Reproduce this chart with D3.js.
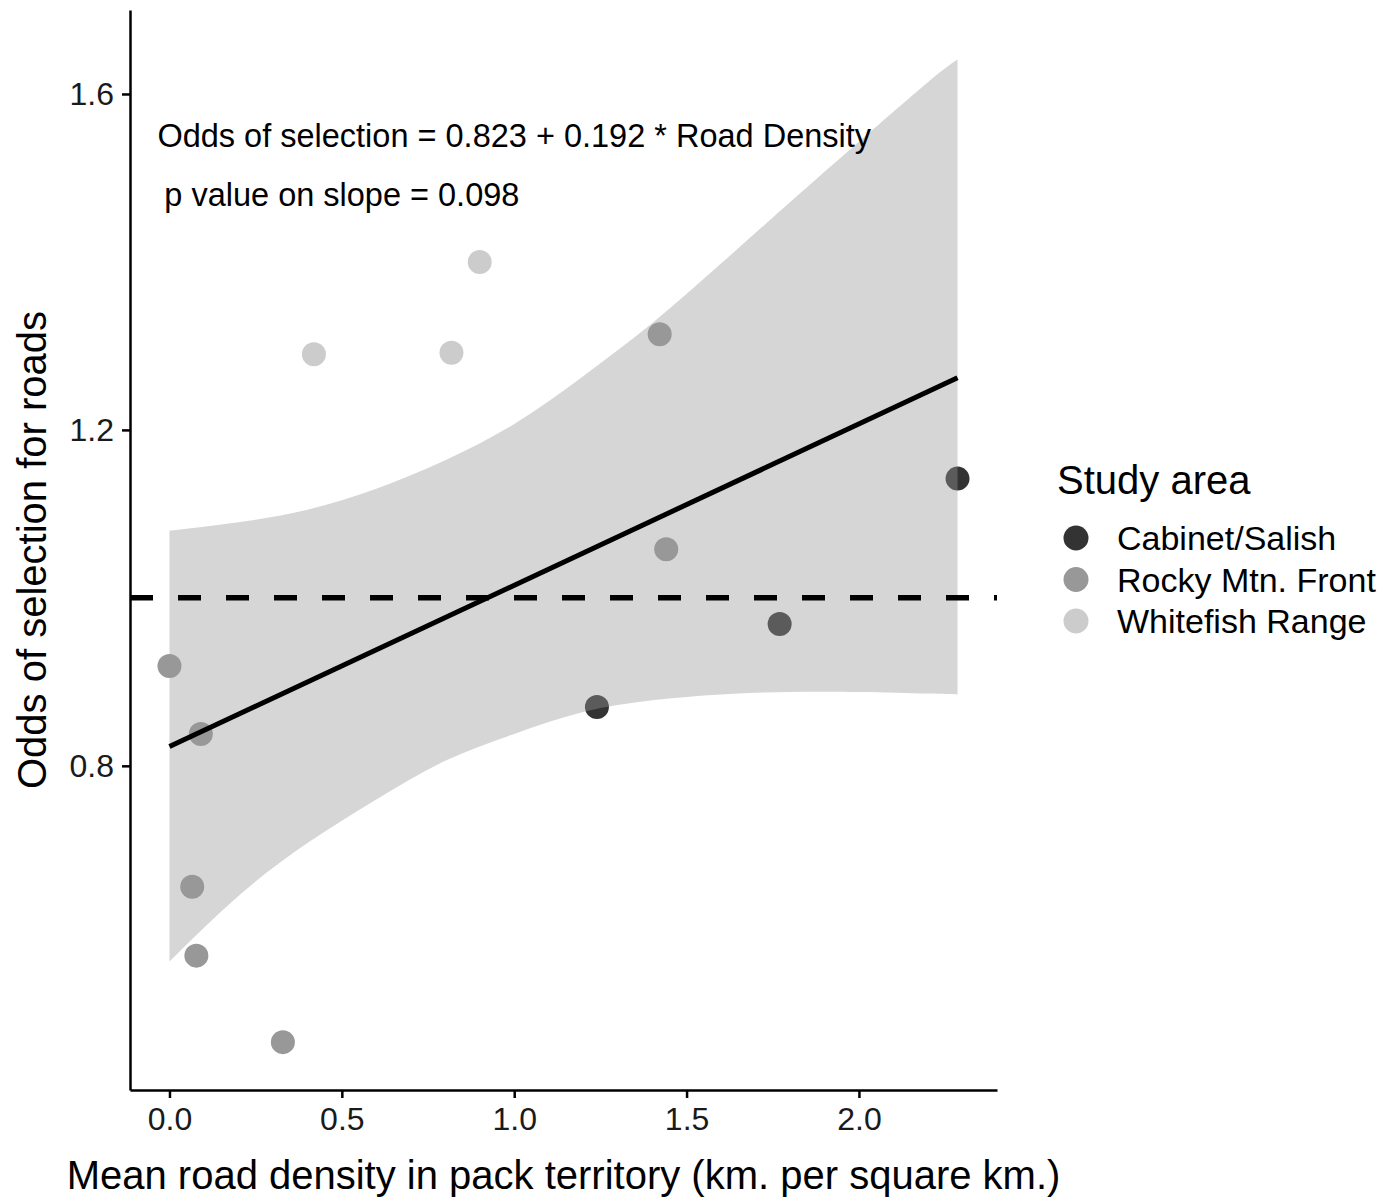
<!DOCTYPE html>
<html>
<head>
<meta charset="utf-8">
<script src="https://cdn.jsdelivr.net/npm/d3@7"></script>
<style>
  body { margin: 0; background: #fff; }
  text { font-family: "Liberation Sans", Arial, sans-serif; }
</style>
</head>
<body>
<div id="chart"></div>
<script>
// study areas and their grey levels
const areas = ["Cabinet/Salish", "Rocky Mtn. Front", "Whitefish Range"];
const areaColors = ["#333333", "#989898", "#cccccc"];

// packs: road density vs odds of selection
const packArea = ["Whitefish Range", "Whitefish Range", "Whitefish Range",
  "Rocky Mtn. Front", "Rocky Mtn. Front", "Rocky Mtn. Front", "Rocky Mtn. Front",
  "Rocky Mtn. Front", "Rocky Mtn. Front", "Rocky Mtn. Front",
  "Cabinet/Salish", "Cabinet/Salish", "Cabinet/Salish"];
const roadDensity = [0.419, 0.818, 0.900, 0.0, 0.091, 0.066, 0.078, 0.329, 1.422, 1.441, 1.240, 1.770, 2.286];
const oddsSelection = [1.290, 1.292, 1.400, 0.919, 0.838, 0.656, 0.574, 0.471, 1.314, 1.058, 0.870, 0.969, 1.142];

// fitted line and its confidence band
const fitX = [0, 2.286];
const fitY = [0.823, 1.262];
const bandX = [0, 0.2, 0.4, 0.6, 0.8, 1.0, 1.2, 1.4, 1.6, 1.8, 2.0, 2.2, 2.286];
const bandLow = [0.567, 0.645, 0.708, 0.760, 0.806, 0.838, 0.864, 0.878, 0.885, 0.888, 0.888, 0.886, 0.885];
const bandHigh = [1.080, 1.090, 1.105, 1.130, 1.164, 1.207, 1.264, 1.327, 1.398, 1.471, 1.543, 1.614, 1.641];

const xTicks = [0, 0.5, 1.0, 1.5, 2.0];
const yTicks = [0.8, 1.2, 1.6];

const width = 1397, height = 1200;
const margin = { left: 130, right: 997, top: 10, bottom: 1090 };

const svg = d3.select("#chart").append("svg")
    .attr("width", width)
    .attr("height", height);

const x = d3.scaleLinear().domain([-0.1145, 2.4005]).range([margin.left, margin.right]);
const y = d3.scaleLinear().domain([0.414, 1.700]).range([margin.bottom, margin.top]);

const colorOf = d3.scaleOrdinal().domain(areas).range(areaColors);

// points first, band drawn over them like geom_smooth
svg.selectAll(".pt")
    .data(roadDensity.map((d, i) => ({ x: d, y: oddsSelection[i], area: packArea[i] })))
    .enter()
    .append("circle")
    .attr("cx", d => x(d.x))
    .attr("cy", d => y(d.y))
    .attr("r", 12)
    .style("fill", d => colorOf(d.area));

const band = bandX.map((d, i) => ({ x: d, lo: bandLow[i], hi: bandHigh[i] }));
svg.append("path")
    .datum(band)
    .attr("d", d3.area()
        .x(d => x(d.x))
        .y0(d => y(d.lo))
        .y1(d => y(d.hi))
        .curve(d3.curveNatural))
    .style("fill", "#999999")
    .style("fill-opacity", 0.4);

svg.append("path")
    .datum(fitX.map((d, i) => [d, fitY[i]]))
    .attr("d", d3.line().x(d => x(d[0])).y(d => y(d[1])))
    .style("fill", "none")
    .style("stroke", "#000")
    .style("stroke-width", 5);

// reference line at odds = 1
svg.append("line")
    .attr("x1", margin.left).attr("x2", margin.right)
    .attr("y1", y(1)).attr("y2", y(1))
    .style("stroke", "#000")
    .style("stroke-width", 5.5)
    .style("stroke-dasharray", "23,25");

// axes
const xAxis = svg.append("g")
    .attr("transform", `translate(0,${margin.bottom})`)
    .call(d3.axisBottom(x).tickValues(xTicks).tickFormat(d3.format(".1f"))
        .tickSize(8).tickSizeOuter(0).tickPadding(9));
const yAxis = svg.append("g")
    .attr("transform", `translate(${margin.left},0)`)
    .call(d3.axisLeft(y).tickValues(yTicks).tickFormat(d3.format(".1f"))
        .tickSize(8).tickSizeOuter(0).tickPadding(8));

[xAxis, yAxis].forEach(g => {
    g.select(".domain").style("stroke", "#000").style("stroke-width", 2.5);
    g.selectAll(".tick line").style("stroke", "#000").style("stroke-width", 2.5);
    g.selectAll(".tick text").style("font-size", "32px").style("fill", "#1a1a1a")
        .style("font-family", "'Liberation Sans', Arial, sans-serif");
});

svg.append("text")
    .attr("x", (margin.left + margin.right) / 2)
    .attr("y", 1189)
    .attr("text-anchor", "middle")
    .style("font-size", "40px")
    .text("Mean road density in pack territory (km. per square km.)");

svg.append("text")
    .attr("transform", `translate(46,${(margin.top + margin.bottom) / 2}) rotate(-90)`)
    .attr("text-anchor", "middle")
    .style("font-size", "40px")
    .text("Odds of selection for roads");

// annotations
svg.append("text")
    .attr("x", x(1.0)).attr("y", y(1.55))
    .attr("dy", "0.35em")
    .attr("text-anchor", "middle")
    .style("font-size", "32.5px")
    .text("Odds of selection = 0.823 + 0.192 * Road Density");

svg.append("text")
    .attr("x", x(0.5)).attr("y", y(1.48))
    .attr("dy", "0.35em")
    .attr("text-anchor", "middle")
    .style("font-size", "32.5px")
    .text("p value on slope = 0.098");

// legend
const legend = svg.append("g").attr("transform", "translate(1057,0)");
legend.append("text")
    .attr("x", 0).attr("y", 494)
    .style("font-size", "40px")
    .text("Study area");

const items = legend.selectAll(".item")
    .data(areas)
    .enter()
    .append("g")
    .attr("transform", (d, i) => `translate(0,${538 + i * 41.5})`);

items.append("circle")
    .attr("cx", 19)
    .attr("r", 12.5)
    .style("fill", d => colorOf(d));

items.append("text")
    .attr("x", 60)
    .attr("dy", "0.36em")
    .style("font-size", "34px")
    .text(d => d);
</script>
</body>
</html>
